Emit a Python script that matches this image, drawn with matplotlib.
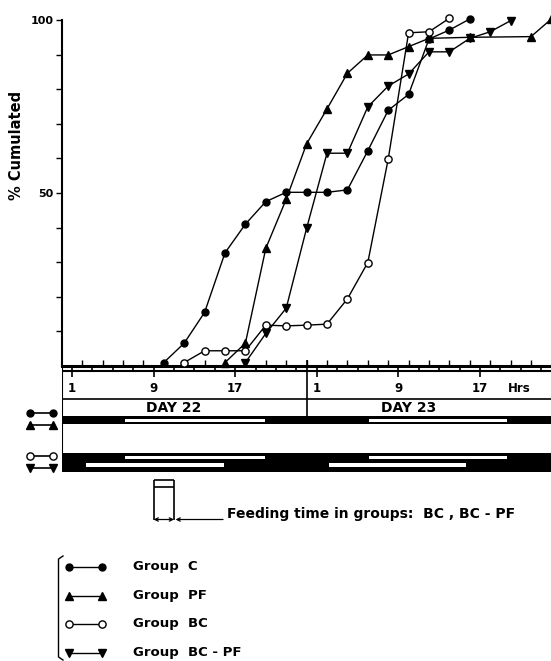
import numpy as np
import matplotlib
matplotlib.use("Agg")
import matplotlib.pyplot as plt
from matplotlib.lines import Line2D

plt.rcParams["font.family"] = ["DejaVu Sans"]

# hours counted from the start of day 22, cumulated percentages
c_hours = [10, 12, 14, 16, 18, 20, 22, 24, 26, 28, 30, 32, 34, 36, 38, 40]
c_pct = [1, 6.6, 15.5, 32.7, 41, 47.5, 50.2, 50.2, 50.2, 50.9, 62.2, 73.9, 78.5, 94.5, 97.1, 100.3]

pf_hours = [16, 18, 20, 22, 24, 26, 28, 30, 32, 34, 36, 40, 46, 48]
pf_pct = [1, 6.6, 34, 48.2, 64.2, 74.3, 84.6, 89.9, 89.9, 92.3, 94.7, 95.0, 95.2, 100.3]

bc_hours = [12, 14, 16, 18, 20, 22, 24, 26, 28, 30, 32, 34, 36, 38]
bc_pct = [1, 4.4, 4.4, 4.4, 11.8, 11.6, 11.8, 12.1, 19.4, 29.9, 59.8, 96.3, 96.6, 100.5]

bcpf_hours = [18, 20, 22, 24, 26, 28, 30, 32, 34, 36, 38, 40, 42, 44]
bcpf_pct = [1, 9.4, 16.7, 39.8, 61.5, 61.5, 74.9, 80.9, 84.4, 90.8, 90.8, 94.7, 96.6, 99.8]

# light periods (white) in the light/dark bars
light_day = [(6.2, 19.9), (30.1, 43.6)]
light_shift = [(2.4, 15.9), (26.2, 39.6)]
feed_time = (9, 11)

hour_ticks = [1, 9, 17, 25, 33, 41]
hour_labels = ["1", "9", "17", "1", "9", "17"]
day_names = ["DAY 22", "DAY 23"]
group_names = ["Group  C", "Group  PF", "Group  BC", "Group  BC - PF"]

W, H = 551, 661
X0, PXH = 61.8, 10.2      # pixel of hour 0, pixels per hour
XMAX = (W - X0) / PXH


def fx(px):
    return px / W


def fy(py):
    return 1 - py / H


def hx(px):
    return (px - X0) / PXH


fig = plt.figure(figsize=(W / 100, H / 100), dpi=100)

ax = fig.add_axes([fx(X0), fy(366), 1 - fx(X0), (366 - 20) / H])
styles = [("o", "k", 5.0), ("^", "k", 5.5), ("o", "white", 5.2), ("v", "k", 5.5)]
series = [(c_hours, c_pct), (pf_hours, pf_pct), (bc_hours, bc_pct), (bcpf_hours, bcpf_pct)]
for (h, p), (m, fc, ms) in zip(series, styles):
    ax.plot(h, p, color="k", lw=1.0, marker=m, ms=ms, mfc=fc, mec="k", mew=1.0,
            clip_on=False, zorder=3)

ax.set_xlim(0, XMAX)
ax.set_ylim(0, 100)
for s in ["top", "right"]:
    ax.spines[s].set_visible(False)
ax.spines["left"].set_linewidth(1.5)
ax.spines["bottom"].set_linewidth(2.2)
ax.set_yticks(range(10, 101, 10))
ax.set_yticklabels(["50" if v == 50 else "100" if v == 100 else "" for v in range(10, 101, 10)],
                   fontweight="bold")
ax.tick_params(axis="y", direction="out", length=4, width=1, labelsize=8, pad=2)
ax.set_xticks(np.arange(2, XMAX, 2))
ax.tick_params(axis="x", direction="in", length=4, width=1, labelbottom=False)
fig.text(fx(17), fy(145), "% Cumulated", rotation=90, ha="center", va="center",
         fontsize=10.5, fontweight="bold")

# time scale, day row and light/dark bars
lo = fig.add_axes([fx(X0), fy(530), 1 - fx(X0), (530 - 366) / H])
lo.set_xlim(0, XMAX)
lo.set_ylim(530, 366)
lo.axis("off")

lo.hlines(371, 0, XMAX, color="k", lw=1.5)
lo.vlines(np.arange(1, XMAX, 2), 366, 371, color="k", lw=1.2)
lo.vlines(hour_ticks, 371, 377, color="k", lw=1.2)
for pos, lab in zip(hour_ticks, hour_labels):
    lo.text(pos, 388, lab, ha="center", va="center", fontsize=8.5, fontweight="bold")
lo.text(hx(519), 388, "Hrs", ha="center", va="center", fontsize=8.5, fontweight="bold")
lo.hlines(399, 0, XMAX, color="k", lw=1.2)
lo.vlines(0, 366, 472, color="k", lw=1.5)
lo.vlines(24, 360, 416, color="k", lw=1.2, clip_on=False)
for pos, name in zip([11, 34], day_names):
    lo.text(pos, 408, name, ha="center", va="center", fontsize=10, fontweight="bold")

lo.broken_barh([(0, XMAX)], (416, 8), facecolor="k")
lo.broken_barh([(a, b - a) for a, b in light_day], (418.5, 3.5), facecolor="white")
lo.broken_barh([(0, XMAX)], (453, 19), facecolor="k")
lo.broken_barh([(a, b - a) for a, b in light_day], (455.5, 3.5), facecolor="white")
lo.broken_barh([(a, b - a) for a, b in light_shift], (462.5, 4.5), facecolor="white")

# feeding time symbol
fs, fe = feed_time
lo.vlines([fs, fe], 480, 520, color="k", lw=1.2)
lo.hlines([480, 487], fs, fe, color="k", lw=1.2)
lo.annotate("", xy=(fs, 519.5), xytext=(fe, 519.5),
            arrowprops=dict(arrowstyle="<->", lw=0.9, shrinkA=0, shrinkB=0, mutation_scale=6))
lo.annotate("", xy=(fe + 0.15, 519.5), xytext=(hx(223), 519.5),
            arrowprops=dict(arrowstyle="->", lw=0.9, shrinkA=0, shrinkB=0, mutation_scale=6))
lo.text(hx(226.6), 514, "Feeding time in groups:  BC , BC - PF", va="center",
        fontsize=10, fontweight="bold")


def fig_line(xs, ys, **kw):
    fig.add_artist(Line2D([fx(v) for v in xs], [fy(v) for v in ys],
                          transform=fig.transFigure, color="k", **kw))


# symbols beside the light/dark bars
for (m, fc, ms), yy in zip(styles, [412.7, 425, 455.7, 468.3]):
    fig_line([30, 52.7], [yy, yy], lw=1.2, marker=m, ms=ms, mfc=fc, mec="k", mew=1.0)

# legend
fig_line([63, 58.5, 58.5, 63], [556, 559, 657, 660], lw=1.0)
for (m, fc, ms), yy, name in zip(styles, [566.7, 596, 624, 652.7], group_names):
    fig_line([68.5, 101.9], [yy, yy], lw=1.0, marker=m, ms=ms, mfc=fc, mec="k", mew=1.0)
    fig.text(fx(132.8), fy(yy), name, va="center", fontsize=9.5, fontweight="bold")

fig.savefig("out.png", dpi=100)
